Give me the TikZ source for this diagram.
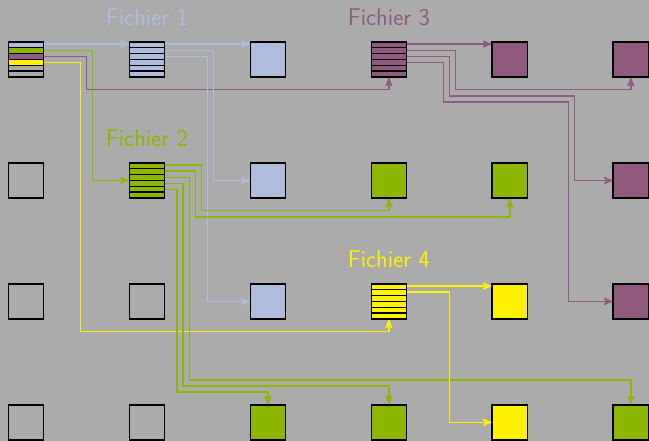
\documentclass[tikz,border=0pt]{standalone}
\usepackage{xcolor}
\usepackage{tikz}
\usetikzlibrary{arrows,positioning,calc}

\definecolor{fond}{RGB}{171,171,171}
\definecolor{fich1}{RGB}{176,188,222}
\definecolor{fich2}{RGB}{141,182,0}
\definecolor{fich3}{RGB}{143,90,126}
\definecolor{fich4}{RGB}{255,242,0}

% the 5 black separators of a striped block
\newcommand{\separe}{%
  \foreach \k in {1,...,5}
    \draw[line width=1pt] ($(path picture bounding box.north west)!{\k/6}!(path picture bounding box.south west)$)
      -- ($(path picture bounding box.north east)!{\k/6}!(path picture bounding box.south east)$);}

\tikzset{
  blk/.style={draw=black,line width=1.2pt,minimum size=0.87cm,inner sep=0pt},
  rayures/.style={path picture={\separe}},
  melange/.style={path picture={
    \foreach \k/\c in {0/fich1,1/fich2,2/fich3,3/fich4}
      \fill[\c] ($(path picture bounding box.north west)!{\k/6}!(path picture bounding box.south west)$)
        rectangle ($(path picture bounding box.north east)!{(\k+1)/6}!(path picture bounding box.south east)$);
    \separe}},
  titre/.style={inner sep=0pt,font=\fontsize{17}{20}\selectfont\sffamily},
  lien/.style={->,line width=1.1pt},
}

\begin{document}
\begin{tikzpicture}[>=stealth']
  \fill[fond] (-0.645,1.475) rectangle (15.45,-9.46);
  \useasboundingbox (-0.645,1.475) rectangle (15.45,-9.46);

  % striped blocks
  \node[blk,melange] (src) at (0,0) {};
  \node[blk,fill=fich1,rayures] (f1) at (3,0) {};
  \node[blk,fill=fich3,rayures] (f3) at (9,0) {};
  \node[blk,fill=fich2,rayures] (f2) at (3,-3) {};
  \node[blk,fill=fich4,rayures] (f4) at (9,-6) {};

  % plain blocks, b<col><row>
  \foreach \c/\r/\col in {3/1/fich1,5/1/fich3,6/1/fich3,
                          1/2/none,3/2/fich1,4/2/fich2,5/2/fich2,6/2/fich3,
                          1/3/none,2/3/none,3/3/fich1,5/3/fich4,6/3/fich3,
                          1/4/none,2/4/none,3/4/fich2,4/4/fich2,5/4/fich4,6/4/fich2}
    \node[blk,fill=\col] (b\c\r) at ({3*(\c-1)},{-3*(\r-1)}) {};

  \node[titre,text=fich1,above=0.37cm of f1] (t1) {Fichier 1};
  \node[titre,text=fich2,above=0.37cm of f2] (t2) {Fichier 2};
  \node[titre,text=fich3,above=0.37cm of f3] (t3) {Fichier 3};
  \node[titre,text=fich4,above=0.37cm of f4] (t4) {Fichier 4};

  % one point per stripe on the right side
  \foreach \n in {src,f1,f2,f3,f4}
    \foreach \k in {0,...,5}
      \coordinate (\n-\k) at ($(\n.north east)!{(\k+0.5)/6}!(\n.south east)$);

  \draw[lien,fich1] (src-0) -- (src-0 -| f1.west);
  \draw[lien,fich2] (src-1) -| (1.65,-3) -- (f2.west);
  \draw[lien,fich3] (src-2) -| (1.5,-0.75) -| (f3.south);
  \draw[lien,fich4] (src-3) -| (1.35,-6.75) -| (f4.south);

  \draw[lien,fich1] (f1-0) -- (f1-0 -| b31.west);
  \draw[lien,fich1] (f1-1) -| (4.65,-3) -- (b32.west);
  \draw[lien,fich1] (f1-2) -| (4.5,-6) -- (b33.west);

  \draw[lien,fich3] (f3-0) -- (f3-0 -| b51.west);
  \draw[lien,fich3] (f3-1) -| (10.65,-0.75) -| (b61.south);
  \draw[lien,fich3] (f3-2) -| (10.5,-0.9) -| (13.6,-3) -- (b62.west);
  \draw[lien,fich3] (f3-3) -| (10.35,-1.05) -| (13.45,-6) -- (b63.west);

  \draw[lien,fich2] (f2-0) -| (4.35,-3.75) -| (b42.south);
  \draw[lien,fich2] (f2-1) -| (4.2,-3.9) -| (b52.south);
  \draw[lien,fich2] (f2-2) -| (4.05,-7.95) -| (b64.north);
  \draw[lien,fich2] (f2-3) -| (3.9,-8.1) -| (b44.north);
  \draw[lien,fich2] (f2-4) -| (3.75,-8.25) -| (b34.north);

  \draw[lien,fich4] (f4-0) -- (f4-0 -| b53.west);
  \draw[lien,fich4] (f4-1) -| (10.5,-9) -- (b54.west);
\end{tikzpicture}
\end{document}
